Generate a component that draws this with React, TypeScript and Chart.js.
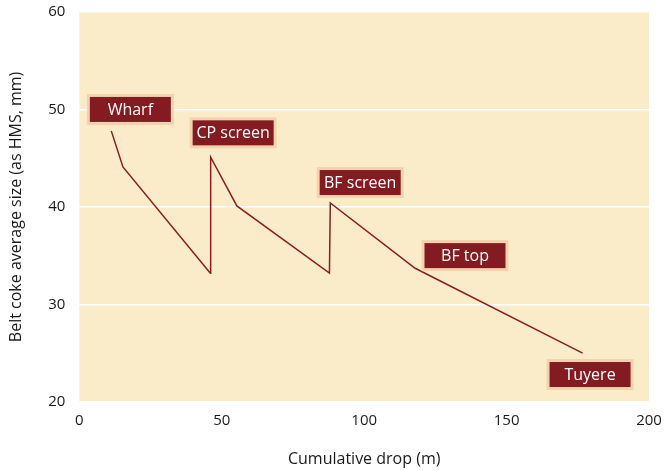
import React, { useEffect, useRef } from "react";
import { Chart, registerables } from "chart.js";

Chart.register(...registerables);

const dropX = [11.2, 15.3, 46.0, 46.1, 55.3, 87.8, 88.1, 117.9, 176.7];
const sizeY = [47.8, 44.1, 33.2, 45.1, 40.1, 33.2, 40.4, 33.7, 25.0];

const stageNames = ["Wharf", "CP screen", "BF screen", "BF top", "Tuyere"];
const stageX = [17.9, 54.0, 98.6, 135.4, 179.3];
const stageY = [50.0, 47.6, 42.5, 35.0, 22.8];

const xTicks = [0, 50, 100, 150, 200];
const yTicks = [20, 30, 40, 50, 60];

const FONT = "'Open Sans', 'Noto Sans', sans-serif";

const bgPlugin = {
  id: "plotBg",
  beforeDraw(chart: any) {
    const { ctx, chartArea } = chart;
    ctx.save();
    ctx.fillStyle = "#FBECC9";
    ctx.fillRect(chartArea.left, chartArea.top, chartArea.right - chartArea.left, chartArea.bottom - chartArea.top);
    ctx.restore();
  },
};

const labelPlugin = {
  id: "stageLabels",
  afterDatasetsDraw(chart: any) {
    const { ctx, scales } = chart;
    ctx.save();
    ctx.font = `16px ${FONT}`;
    ctx.textAlign = "center";
    ctx.textBaseline = "middle";
    stageNames.forEach((name, i) => {
      const cx = scales.x.getPixelForValue(stageX[i]);
      const cy = scales.y.getPixelForValue(stageY[i]);
      const w = 81;
      const h = 25;
      ctx.fillStyle = "#F3D2AE";
      ctx.fillRect(cx - w / 2 - 3, cy - h / 2 - 3, w + 6, h + 6);
      ctx.fillStyle = "#841B21";
      ctx.fillRect(cx - w / 2, cy - h / 2, w, h);
      ctx.fillStyle = "#FFFFFF";
      ctx.fillText(name, cx, cy + 1);
    });
    ctx.restore();
  },
};

export default function App() {
  const ref = useRef<HTMLCanvasElement | null>(null);
  useEffect(() => {
    if (!ref.current) return;
    const chart = new Chart(ref.current, {
      type: "line",
      data: {
        datasets: [
          {
            data: dropX.map((x, i) => ({ x, y: sizeY[i] })),
            borderColor: "#8B1E22",
            borderWidth: 1.5,
            pointRadius: 0,
            tension: 0,
            fill: false,
          },
        ],
      },
      options: {
        animation: false,
        responsive: false,
        maintainAspectRatio: false,
        layout: { padding: { top: 12, right: 15, left: 7, bottom: 1 } },
        plugins: { legend: { display: false }, tooltip: { enabled: false } },
        scales: {
          x: {
            type: "linear",
            min: 0,
            max: 200,
            afterBuildTicks: (axis: any) => {
              axis.ticks = xTicks.map((v) => ({ value: v }));
            },
            afterFit: (axis: any) => {
              axis.paddingLeft = 0;
              axis.paddingRight = 0;
            },
            grid: { display: false, drawTicks: false },
            border: { display: false },
            ticks: { color: "#1a1a1a", font: { family: FONT, size: 15 }, padding: 10 },
            title: {
              display: true,
              text: "Cumulative drop (m)",
              color: "#1a1a1a",
              font: { family: FONT, size: 16 },
              padding: { top: 10, bottom: 0 },
            },
          },
          y: {
            type: "linear",
            min: 20,
            max: 60,
            afterBuildTicks: (axis: any) => {
              axis.ticks = yTicks.map((v) => ({ value: v }));
            },
            afterFit: (axis: any) => {
              axis.paddingTop = 0;
              axis.paddingBottom = 0;
            },
            grid: { color: "#FFFFFF", lineWidth: 1.5, drawTicks: false },
            border: { display: false },
            ticks: { color: "#1a1a1a", font: { family: FONT, size: 15 }, padding: 14 },
            title: {
              display: true,
              text: "Belt coke average size (as HMS, mm)",
              color: "#1a1a1a",
              font: { family: FONT, size: 16 },
              padding: { top: 0, bottom: 8 },
            },
          },
        },
      },
      plugins: [bgPlugin, labelPlugin],
    });
    return () => chart.destroy();
  }, []);
  return (
    <div style={{ position: "absolute", left: 0, top: 0, width: 664, height: 470 }}>
      <canvas ref={ref} width={664} height={470} style={{ width: 664, height: 470 }} />
    </div>
  );
}
